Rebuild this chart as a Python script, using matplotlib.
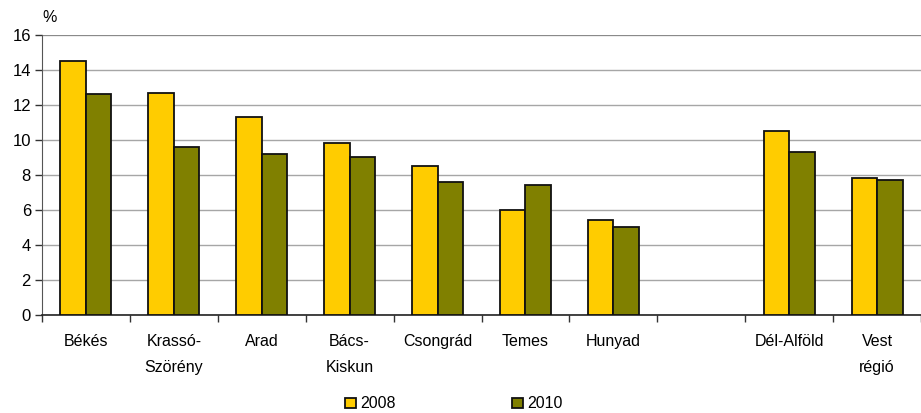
import numpy as np
import matplotlib
matplotlib.use("Agg")
import matplotlib.pyplot as plt
from matplotlib.ticker import FixedLocator

plt.rcParams['font.family'] = ['Liberation Sans', 'DejaVu Sans']

# data
categories = ["Békés", "Krassó-\nSzörény", "Arad", "Bács-\nKiskun", "Csongrád",
              "Temes", "Hunyad", "", "Dél-Alföld", "Vest\nrégió"]
val_2008 = [14.5, 12.7, 11.3, 9.8, 8.5, 6.0, 5.4, np.nan, 10.5, 7.8]
val_2010 = [12.6, 9.6, 9.2, 9.0, 7.6, 7.4, 5.0, np.nan, 9.3, 7.7]
years = ["2008", "2010"]

fig = plt.figure(figsize=(9.21, 4.13), dpi=100)
ax = fig.add_axes([42 / 921, 1 - 315 / 413, 1 - 42 / 921, (315 - 34.7) / 413])

x = np.arange(len(categories))
w = 0.29
ax.bar(x - w / 2, val_2008, w, color="#FFCC00", edgecolor="#111111", linewidth=1.3,
       label=years[0], zorder=3)
ax.bar(x + w / 2, val_2010, w, color="#808000", edgecolor="#111111", linewidth=1.3,
       label=years[1], zorder=3)

ax.set_xlim(-0.5, len(categories) - 0.5)
ax.set_ylim(0, 16)
ax.set_yticks(np.arange(0, 17, 2))
ax.yaxis.grid(True, color="#A6A6A6", linewidth=1.0, zorder=0)
ax.set_axisbelow(True)

ax.set_xticks(x)
ax.set_xticklabels(categories, fontsize=11.5, linespacing=1.85, va="top")
ax.tick_params(axis="x", which="major", length=0, pad=14)
ax.xaxis.set_minor_locator(FixedLocator(np.arange(-0.5, len(categories), 1.0)))
ax.tick_params(axis="x", which="minor", length=5, width=1, color="#333333", direction="out")
ax.tick_params(axis="y", length=5, width=1, color="#333333", labelsize=12, pad=3)

for s in ["top", "right"]:
    ax.spines[s].set_visible(False)
ax.spines["left"].set_color("#555555")
ax.spines["bottom"].set_color("#222222")
ax.spines["bottom"].set_linewidth(1.2)
ax.axhline(16, color="#888888", linewidth=1.3, zorder=1)

fig.text(42 / 921, 1 - 18 / 413, "%", fontsize=11.5, va="center", ha="left")

fig.legend(loc="center", bbox_to_anchor=(0.493, 1 - 404 / 413), ncol=2, frameon=False,
           fontsize=11.5, handlelength=0.65, handleheight=0.65, handletextpad=0.3,
           columnspacing=7.3)

fig.savefig("out.png", dpi=100)
